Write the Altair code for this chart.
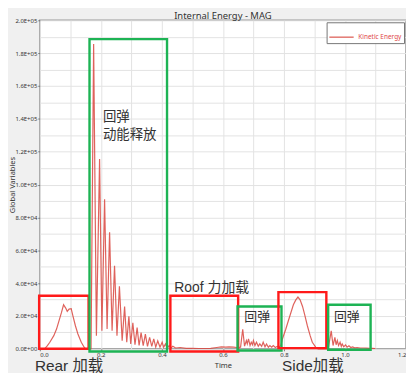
import altair as alt
import pandas as pd

# ---- data ----
time_s = [0.000, 0.016, 0.025, 0.033, 0.046, 0.055, 0.063, 0.071, 0.078, 0.085,
          0.090, 0.096, 0.103, 0.109, 0.117, 0.125, 0.136, 0.147, 0.155, 0.168,
          0.1765, 0.1856, 0.196, 0.2036, 0.2124, 0.2206, 0.2288, 0.237, 0.245, 0.253,
          0.261, 0.270, 0.278, 0.285, 0.292, 0.298, 0.305, 0.312, 0.319, 0.3255,
          0.332, 0.339, 0.346, 0.353, 0.360, 0.367, 0.3735, 0.380, 0.3866, 0.394,
          0.401, 0.406, 0.412, 0.418, 0.424, 0.430, 0.436, 0.445, 0.460, 0.480,
          0.500, 0.520, 0.540, 0.560, 0.580, 0.595, 0.610, 0.620, 0.635, 0.645,
          0.658, 0.665, 0.671, 0.677, 0.680, 0.684, 0.689, 0.693, 0.697, 0.700,
          0.705, 0.710, 0.716, 0.721, 0.727, 0.732, 0.738, 0.743, 0.749, 0.754,
          0.760, 0.765, 0.772, 0.778, 0.784, 0.790, 0.795, 0.806, 0.814, 0.8225,
          0.831, 0.839, 0.846, 0.853, 0.861, 0.868, 0.877, 0.886, 0.893, 0.904,
          0.912, 0.945, 0.955, 0.961, 0.967, 0.971, 0.975, 0.979, 0.984, 0.988,
          0.991, 0.996, 1.002, 1.007, 1.013, 1.019, 1.025, 1.032, 1.040, 1.050,
          1.060, 1.070, 1.080, 1.090, 1.100]
kinetic = [0, 0, 2000, 4000, 8000, 12000, 17000, 22000, 26800, 24800,
           22800, 24200, 24400, 19800, 13900, 9000, 4000, 500, 0, 0,
           185500, 8000, 115500, 11000, 91000, 12000, 71000, 11000, 50600, 8000,
           38000, 5000, 25800, 4000, 19800, 3000, 15900, 2500, 12900, 2000,
           9900, 2000, 9000, 1500, 7000, 1500, 6000, 1000, 4800, 1000,
           4000, 1000, 3000, 500, 2000, 500, 1500, 500, 800, 300,
           300, 200, 200, 300, 800, 1200, 1000, 1200, 1000, 800,
           1000, 11900, 1600, 5000, 3000, 6000, 2000, 4000, 2500, 5000,
           2000, 4000, 1500, 3000, 1500, 4000, 1200, 3000, 1000, 2000,
           1000, 2000, 800, 1500, 1000, 2000, 6000, 11900, 16800, 21800,
           26800, 29800, 31500, 29800, 25800, 20800, 13900, 8000, 4000, 1000,
           0, 0, 10900, 2000, 7000, 2500, 5000, 2000, 4000, 1500,
           3000, 1200, 2400, 1000, 1800, 800, 1200, 600, 800, 500,
           500, 400, 300, 300, 200]
series_name = "Kinetic Energy"

# annotation boxes (data units)
box_t0 = [-0.002, 0.163, 0.428, 0.648, 0.782, 0.945]
box_t1 = [0.160, 0.417, 0.650, 0.792, 0.939, 1.084]
box_v0 = [0, -1600, -1600, -1000, 400, -600]
box_v1 = [32300, 188500, 32300, 25800, 34500, 26800]
box_color = ["#ff1a1a", "#1db354", "#ff1a1a", "#1db354", "#ff1a1a", "#1db354"]

# annotation texts (data units, left/baseline anchored)
note_text = ["回弹", "动能释放", "Roof 力加载", "回弹", "回弹", "Rear 加载", "Side加载"]
note_t = [0.207, 0.207, 0.441, 0.670, 0.964, -0.016, 0.794]
note_v = [138700, 128000, 34500, 16700, 16700, -13800, -13800]
note_size = [13.5, 13.5, 14, 13, 13, 15.5, 15.5]

x_ticks = [0.0, 0.1, 0.2, 0.3, 0.4, 0.5, 0.6, 0.7, 0.8, 0.9, 1.0, 1.1, 1.2]
y_ticks = [0, 10000, 20000, 30000, 40000, 50000, 60000, 70000, 80000, 90000, 100000,
           110000, 120000, 130000, 140000, 150000, 160000, 170000, 180000, 190000, 200000]

df = pd.DataFrame({"t": time_s, "v": kinetic, "s": series_name})
boxes = pd.DataFrame({"t0": box_t0, "t1": box_t1, "v0": box_v0, "v1": box_v1, "c": box_color})
notes = pd.DataFrame({"t": note_t, "v": note_v, "txt": note_text, "sz": note_size})

xscale = alt.Scale(domain=[0, 1.2], nice=False, zero=False)
yscale = alt.Scale(domain=[0, 200000], nice=False, zero=False)

x_axis = alt.Axis(
    values=x_ticks, title="Time",
    labelExpr="round(datum.value*10) % 2 == 0 ? format(datum.value, '.1f') : ''",
    tickOpacity={"condition": {"test": "round(datum.value*10) % 2 == 0", "value": 1}, "value": 0},
    tickSize=2, labelPadding=1, titlePadding=4,
)
y_axis = alt.Axis(
    values=y_ticks, title="Global Variables",
    labelExpr="datum.value % 20000 == 0 ? replace(format(datum.value, '.1e'), 'e+', 'E+0') : ''",
    tickOpacity={"condition": {"test": "datum.value % 20000 == 0", "value": 1}, "value": 0},
    tickSize=2, labelPadding=1, titleX=-31, titleBaseline="top", titleAngle=-90,
)

line = alt.Chart(df).mark_line(strokeWidth=1.2, opacity=0.85).encode(
    x=alt.X("t:Q", scale=xscale, axis=x_axis),
    y=alt.Y("v:Q", scale=yscale, axis=y_axis),
    color=alt.Color("s:N", scale=alt.Scale(range=["#d9473f"]),
                    legend=alt.Legend(title=None, orient="top-right", offset=2, padding=2,
                                      strokeColor="#777", fillColor="white",
                                      symbolType="stroke", symbolSize=600,
                                      symbolStrokeWidth=1.3, labelColor="#e04848",
                                      labelFontSize=6.5, labelFont="Noto Sans",
                                      cornerRadius=0, rowPadding=0)),
)

rects = alt.Chart(boxes).mark_rect(filled=False, strokeWidth=2.4).encode(
    x=alt.X("t0:Q", scale=xscale, axis=x_axis),
    x2="t1:Q",
    y=alt.Y("v0:Q", scale=yscale, axis=y_axis),
    y2="v1:Q",
    stroke=alt.Stroke("c:N", scale=None),
)

texts = alt.Chart(notes).mark_text(
    align="left", baseline="alphabetic", color="#333333",
    font="Liberation Sans, Noto Sans CJK SC",
).encode(
    x=alt.X("t:Q", scale=xscale, axis=x_axis),
    y=alt.Y("v:Q", scale=yscale, axis=y_axis),
    text="txt:N",
    size=alt.Size("sz:Q", scale=None),
)

chart = alt.layer(line, rects, texts).properties(
    width=369, height=331,
    title=alt.TitleParams("Internal Energy - MAG", fontSize=9.5, font="Noto Sans",
                          fontWeight="normal", color="#333333", offset=2, dy=5),
    autosize=alt.AutoSizeParams(type="none"),
    padding={"left": 32, "top": 11, "right": 0, "bottom": 25},
    background="#f0f0f0",
).configure_view(
    fill="white", stroke="#999999", strokeWidth=1.5,
).configure_axis(
    labelFont="Noto Sans", labelFontSize=6, labelColor="#333333",
    tickColor="#777777", domain=False, gridColor="#e3e3e3", gridWidth=1,
    titleFont="Noto Sans", titleFontSize=7.5, titleFontWeight="normal", titleColor="#333333",
)

chart.save("out.html", embed_options={"renderer": "svg", "actions": False})
